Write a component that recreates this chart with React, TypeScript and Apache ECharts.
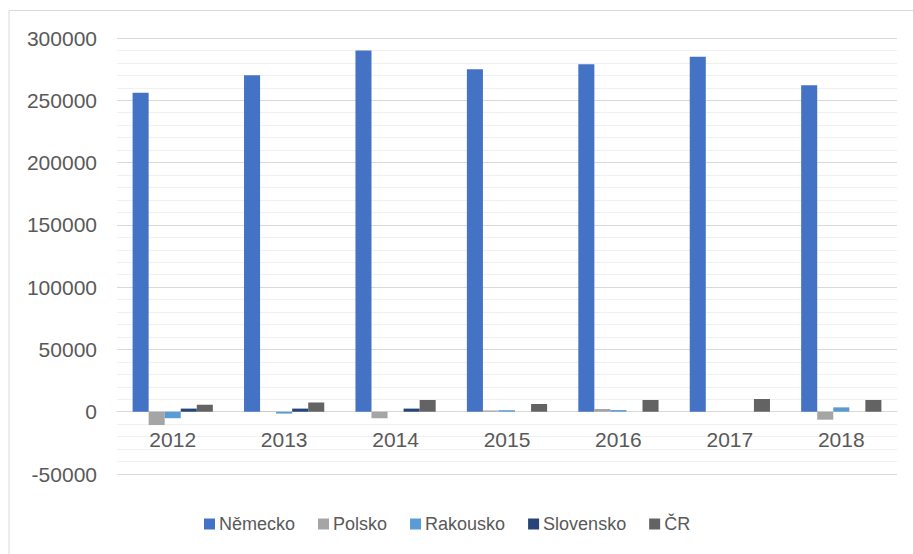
import React, { useEffect, useRef } from "react";
import * as echarts from "echarts";

const years = ["2012", "2013", "2014", "2015", "2016", "2017", "2018"];
const nemecko = [256000, 270000, 290000, 275000, 279000, 285000, 262000];
const polsko = [-10700, 200, -5200, 1000, 2200, 0, -6400];
const rakousko = [-5200, -1500, 0, 1200, 1300, 0, 3500];
const slovensko = [2500, 2500, 2500, 0, 0, 0, 0];
const cr = [5600, 7400, 9400, 6200, 9400, 10200, 9400];

const seriesNames = ["Německo", "Polsko", "Rakousko", "Slovensko", "ČR"];
const seriesColors = ["#4472C4", "#A5A5A5", "#5B9BD5", "#264478", "#636363"];
const seriesData = [nemecko, polsko, rakousko, slovensko, cr];

const yMin = -50000;
const yMax = 300000;

export default function App() {
  const ref = useRef<HTMLDivElement>(null);
  useEffect(() => {
    if (!ref.current) return;
    const chart = echarts.init(ref.current, undefined, { renderer: "svg" });
    const font = "'Liberation Sans', Arial, sans-serif";
    const gridTop = 38;
    const gridBottom = 80;
    const gridH = 554 - gridTop - gridBottom;
    const zeroOffset = (gridH * (0 - yMin)) / (yMax - yMin);
    chart.setOption({
      animation: false,
      backgroundColor: "#ffffff",
      graphic: [
        {
          type: "rect",
          shape: { x: 9, y: 10.5, width: 920, height: 560 },
          style: { fill: "none", stroke: "#d9d9d9", lineWidth: 1 },
          silent: true,
          z: -1,
        },
      ],
      legend: {
        left: 199,
        top: 510,
        itemWidth: 11,
        itemHeight: 11,
        itemGap: 23,
        icon: "rect",
        textStyle: { fontFamily: font, fontSize: 18, color: "#595959", padding: [0, 0, 0, -1] },
        data: seriesNames,
      },
      grid: { left: 117, right: 16, top: gridTop, bottom: gridBottom },
      xAxis: {
        type: "category",
        data: years,
        offset: -zeroOffset,
        axisLine: { onZero: false, lineStyle: { color: "#d9d9d9", width: 1 } },
        axisTick: { show: false },
        axisLabel: { fontFamily: font, fontSize: 21, color: "#595959", margin: 17 },
      },
      yAxis: {
        type: "value",
        min: yMin,
        max: yMax,
        interval: 50000,
        axisLine: { show: false },
        axisTick: { show: false },
        axisLabel: {
          fontFamily: font,
          fontSize: 21,
          color: "#595959",
          margin: 20,
          formatter: (v: number) => String(v),
        },
        splitLine: { show: true, lineStyle: { color: "#d9d9d9", width: 1 } },
        minorTick: { show: false, splitNumber: 5 },
        minorSplitLine: { show: true, lineStyle: { color: "#f0f0f0", width: 1 } },
      },
      series: seriesNames.map((name, i) => ({
        name,
        type: "bar",
        data: seriesData[i],
        itemStyle: { color: seriesColors[i] },
        barGap: "0%",
        barCategoryGap: "28%",
      })),
    });
    return () => chart.dispose();
  }, []);
  return (
    <div
      ref={ref}
      style={{ position: "absolute", left: 0, top: 0, width: 913, height: 554 }}
    />
  );
}
